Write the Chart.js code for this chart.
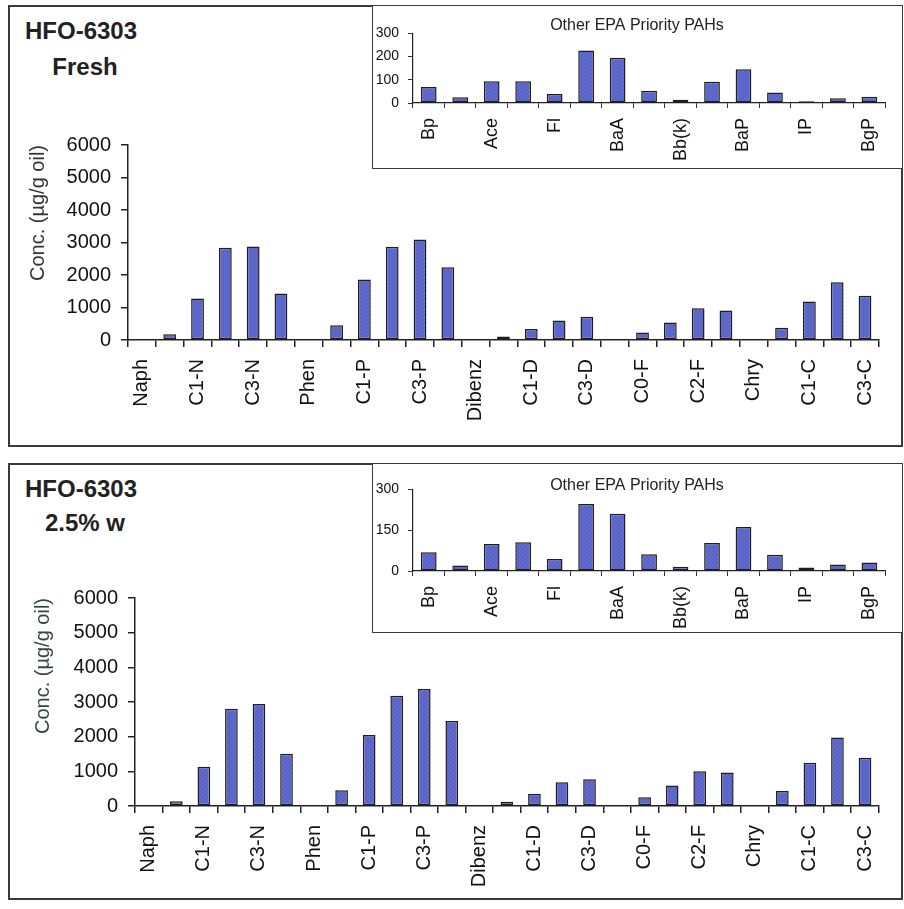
<!DOCTYPE html>
<html>
<head>
<meta charset="utf-8">
<script src="https://cdn.jsdelivr.net/npm/chart.js@4.4.1/dist/chart.umd.min.js"></script>
<style>
  html,body{margin:0;padding:0;background:#fff;}
  body{width:904px;height:909px;position:relative;overflow:hidden;font-family:"Liberation Sans",Arial,sans-serif;}
  .panel{position:absolute;box-sizing:border-box;border:2px solid #3a3a3a;background:#fff;}
  .inset{position:absolute;box-sizing:border-box;border:1.5px solid #3a3a3a;background:#fff;z-index:3;}
  canvas{position:absolute;}
  .ttl{position:absolute;font-weight:bold;font-size:24px;line-height:28px;color:#222;z-index:4;white-space:nowrap;}
</style>
</head>
<body>
<div class="panel" style="left:8px;top:5px;width:895px;height:442px;"></div>
<div class="panel" style="left:8px;top:463px;width:895px;height:437px;"></div>

<div class="ttl" style="left:25px;top:17px;">HFO-6303</div>
<div class="ttl" style="left:25px;top:53px;width:120px;text-align:center;">Fresh</div>
<div class="ttl" style="left:25px;top:475px;">HFO-6303</div>
<div class="ttl" style="left:25px;top:509px;width:120px;text-align:center;">2.5% w</div>

<canvas id="main1" width="891" height="323" style="left:10px;top:123px;z-index:2;"></canvas>
<canvas id="main2" width="891" height="323" style="left:10px;top:576px;z-index:2;"></canvas>

<div class="inset" style="left:372px;top:5px;width:531px;height:164px;"></div>
<div class="inset" style="left:372px;top:463px;width:531px;height:170px;"></div>
<canvas id="ins1" width="528" height="161" style="left:373px;top:6px;z-index:5;"></canvas>
<canvas id="ins2" width="528" height="167" style="left:373px;top:465px;z-index:5;"></canvas>

<script>
// ---------- DATA ----------
const mainCategories = ['Naph','C0-N','C1-N','C2-N','C3-N','C4-N','Phen','C0-P','C1-P','C2-P','C3-P','C4-P',
  'Dibenz','C0-D','C1-D','C2-D','C3-D','Fluo','C0-F','C1-F','C2-F','C3-F','Chry','C0-C','C1-C','C2-C','C3-C'];
const freshValues = [null,175,1275,2840,2880,1430,null,455,1860,2870,3095,2240,null,110,340,600,715,null,230,540,975,910,null,375,1185,1780,1360];
const weathered25Values = [null,135,1130,2805,2940,1510,null,455,2045,3180,3375,2450,null,125,345,685,770,null,250,590,1000,965,null,435,1245,1975,1390];

const insetCategories = ['Bp','Acl','Ace','An','Fl','Py','BaA','BbF','Bb(k)','BeP','BaP','Pe','IP','DA','BgP'];
const insetFreshValues = [69,25,94,94,39,226,195,53,14,91,145,45,7,20,27];
const insetWeatheredValues = [69,20,99,105,44,246,210,61,16,103,161,60,13,24,31];

const mainTicks = {min:0, max:6000, step:1000};
const insetFreshTicks = {min:0, max:300, step:100};
const insetWeatheredTicks = {min:0, max:300, step:150};

const yTitle = 'Conc. (µg/g oil)';
const insetTitle = 'Other EPA Priority PAHs';

// ---------- STYLE ----------
const FONT = '"Liberation Sans", Arial, sans-serif';
function hatch(){
  const c = document.createElement('canvas'); c.width = 4; c.height = 4;
  const x = c.getContext('2d');
  x.fillStyle = '#5761c6'; x.fillRect(0,0,4,4);
  x.strokeStyle = 'rgba(125,135,222,0.55)'; x.lineWidth = 1;
  x.beginPath(); x.moveTo(0,4); x.lineTo(4,0); x.stroke();
  return x.createPattern(c,'repeat');
}
const barFill = hatch();

function mainChart(id, labels, values, cfg){
  return new Chart(document.getElementById(id), {
    type:'bar',
    data:{labels:labels, datasets:[{data:values, backgroundColor:barFill, borderColor:'#1e1e1e', borderWidth:1.5,
      categoryPercentage:1, barPercentage:0.46, borderSkipped:false}]},
    options:{
      responsive:false, devicePixelRatio:1, animation:false,
      layout:{padding:{top:0,left:0,right:0,bottom:0}},
      plugins:{legend:{display:false}, tooltip:{enabled:false}, title:{display:false}},
      scales:{
        x:{
          offset:true,
          grid:{display:true, offset:true, drawOnChartArea:false, drawTicks:true, tickLength:7, color:'#222', lineWidth:1.5},
          border:{display:true, color:'#222', width:1.5},
          ticks:{autoSkip:false, minRotation:90, maxRotation:90, padding:12, color:'#111',
            font:{family:FONT, size:20},
            callback:(v,i)=> i%2===0 ? labels[i] : ''},
          afterFit:(s)=>{ s.height = cfg.xHeight; }
        },
        y:{
          min:mainTicks.min, max:mainTicks.max,
          grid:{display:true, drawOnChartArea:false, drawTicks:true, tickLength:7, color:'#222', lineWidth:1.5},
          border:{display:true, color:'#222', width:1.5},
          ticks:{stepSize:mainTicks.step, padding:10, color:'#111', font:{family:FONT, size:20},
            callback:(v)=> String(v)},
          title:{display:true, text:yTitle, align:'end', color:cfg.titleColor, font:{family:FONT, size:20}, padding:{top:cfg.titlePad, bottom:0}},
          afterFit:(s)=>{ s.width = cfg.yWidth; }
        }
      }
    }
  });
}

function insetChart(id, labels, values, ticks, cfg){
  return new Chart(document.getElementById(id), {
    type:'bar',
    data:{labels:labels, datasets:[{data:values, backgroundColor:barFill, borderColor:'#1e1e1e', borderWidth:1.5,
      categoryPercentage:1, barPercentage:0.5, borderSkipped:false}]},
    options:{
      responsive:false, devicePixelRatio:1, animation:false,
      layout:{padding:{top:0,left:0,right:0,bottom:0}},
      plugins:{legend:{display:false}, tooltip:{enabled:false},
        title:{display:true, text:insetTitle, color:'#222', font:{family:FONT, size:16, weight:'normal'},
          padding:{top:cfg.tPadTop, bottom:cfg.tPadBottom}}},
      scales:{
        x:{
          offset:true,
          grid:{display:true, offset:true, drawOnChartArea:false, drawTicks:true, tickLength:5, color:'#333', lineWidth:1},
          border:{display:true, color:'#222', width:1.2},
          ticks:{autoSkip:false, minRotation:90, maxRotation:90, padding:10, color:'#111',
            font:{family:FONT, size:18},
            callback:(v,i)=> i%2===0 ? labels[i] : ''},
          afterFit:(s)=>{ s.height = cfg.xHeight; }
        },
        y:{
          min:ticks.min, max:ticks.max,
          grid:{display:true, drawOnChartArea:false, drawTicks:true, tickLength:5, color:'#333', lineWidth:1},
          border:{display:true, color:'#222', width:1.2},
          ticks:{stepSize:ticks.step, padding:9, color:'#111', font:{family:FONT, size:14},
            callback:(v)=> String(v)},
          afterFit:(s)=>{ s.width = cfg.yWidth; }
        }
      }
    }
  });
}

mainChart('main1', mainCategories, freshValues, {xHeight:106, yWidth:118, titlePad:16, titleColor:'#333'});
mainChart('main2', mainCategories, weathered25Values, {xHeight:93, yWidth:125, titlePad:21, titleColor:'#34483a'});
insetChart('ins1', insetCategories, insetFreshValues, insetFreshTicks, {tPadTop:10, tPadBottom:-2, xHeight:64, yWidth:40});
insetChart('ins2', insetCategories, insetWeatheredValues, insetWeatheredTicks, {tPadTop:11, tPadBottom:-6, xHeight:61, yWidth:40});
</script>
</body>
</html>
